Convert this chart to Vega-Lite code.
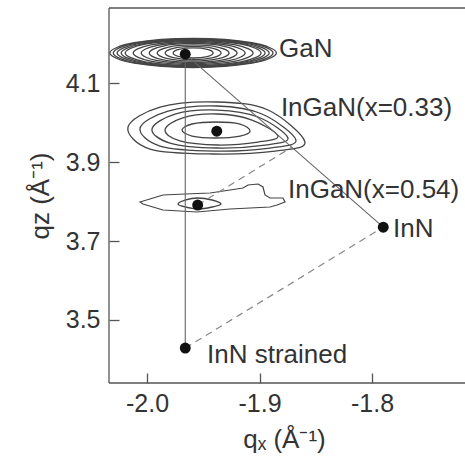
{
  "$schema": "https://vega.github.io/schema/vega-lite/v6.json",
  "width": 372,
  "height": 375,
  "autosize": {"type": "none"},
  "padding": {"left": 109, "top": 8, "right": 0, "bottom": 78},
  "background": "white",
  "config": {
    "view": {"stroke": null},
    "font": "Liberation Sans",
    "axis": {
      "grid": false,
      "domain": false,
      "ticks": true,
      "offset": -10,
      "tickSize": 10,
      "tickColor": "#555",
      "tickWidth": 1.3,
      "labelFont": "Liberation Sans",
      "labelFontSize": 25,
      "labelColor": "#333",
      "titleFont": "Liberation Sans",
      "titleFontSize": 26,
      "titleFontWeight": "normal",
      "titleColor": "#333"
    }
  },
  "datasets": {
    "contours": [
      {"c":"g1","i":0,"x":-1.885,"y":4.176},{"c":"g1","i":1,"x":-1.9067,"y":4.2019},{"c":"g1","i":2,"x":-1.959,"y":4.2127},{"c":"g1","i":3,"x":-2.0113,"y":4.2019},{"c":"g1","i":4,"x":-2.033,"y":4.176},{"c":"g1","i":5,"x":-2.0113,"y":4.1501},{"c":"g1","i":6,"x":-1.959,"y":4.1393},{"c":"g1","i":7,"x":-1.9067,"y":4.1501},
      {"c":"g2","i":0,"x":-1.8914,"y":4.176},{"c":"g2","i":1,"x":-1.9112,"y":4.2002},{"c":"g2","i":2,"x":-1.959,"y":4.2102},{"c":"g2","i":3,"x":-2.0068,"y":4.2002},{"c":"g2","i":4,"x":-2.0266,"y":4.176},{"c":"g2","i":5,"x":-2.0068,"y":4.1518},{"c":"g2","i":6,"x":-1.959,"y":4.1418},{"c":"g2","i":7,"x":-1.9112,"y":4.1518},
      {"c":"g3","i":0,"x":-1.8986,"y":4.176},{"c":"g3","i":1,"x":-1.9163,"y":4.1983},{"c":"g3","i":2,"x":-1.959,"y":4.2076},{"c":"g3","i":3,"x":-2.0017,"y":4.1983},{"c":"g3","i":4,"x":-2.0194,"y":4.176},{"c":"g3","i":5,"x":-2.0017,"y":4.1537},{"c":"g3","i":6,"x":-1.959,"y":4.1444},{"c":"g3","i":7,"x":-1.9163,"y":4.1537},
      {"c":"g4","i":0,"x":-1.9057,"y":4.176},{"c":"g4","i":1,"x":-1.9213,"y":4.1966},{"c":"g4","i":2,"x":-1.959,"y":4.2051},{"c":"g4","i":3,"x":-1.9967,"y":4.1966},{"c":"g4","i":4,"x":-2.0123,"y":4.176},{"c":"g4","i":5,"x":-1.9967,"y":4.1554},{"c":"g4","i":6,"x":-1.959,"y":4.1469},{"c":"g4","i":7,"x":-1.9213,"y":4.1554},
      {"c":"g5","i":0,"x":-1.9128,"y":4.176},{"c":"g5","i":1,"x":-1.9263,"y":4.1948},{"c":"g5","i":2,"x":-1.959,"y":4.2026},{"c":"g5","i":3,"x":-1.9917,"y":4.1948},{"c":"g5","i":4,"x":-2.0052,"y":4.176},{"c":"g5","i":5,"x":-1.9917,"y":4.1572},{"c":"g5","i":6,"x":-1.959,"y":4.1494},{"c":"g5","i":7,"x":-1.9263,"y":4.1572},
      {"c":"g6","i":0,"x":-1.9199,"y":4.176},{"c":"g6","i":1,"x":-1.9314,"y":4.193},{"c":"g6","i":2,"x":-1.959,"y":4.2001},{"c":"g6","i":3,"x":-1.9866,"y":4.193},{"c":"g6","i":4,"x":-1.9981,"y":4.176},{"c":"g6","i":5,"x":-1.9866,"y":4.159},{"c":"g6","i":6,"x":-1.959,"y":4.1519},{"c":"g6","i":7,"x":-1.9314,"y":4.159},
      {"c":"g7","i":0,"x":-1.927,"y":4.176},{"c":"g7","i":1,"x":-1.9364,"y":4.1904},{"c":"g7","i":2,"x":-1.959,"y":4.1963},{"c":"g7","i":3,"x":-1.9816,"y":4.1904},{"c":"g7","i":4,"x":-1.991,"y":4.176},{"c":"g7","i":5,"x":-1.9816,"y":4.1616},{"c":"g7","i":6,"x":-1.959,"y":4.1557},{"c":"g7","i":7,"x":-1.9364,"y":4.1616},
      {"c":"g8","i":0,"x":-1.9341,"y":4.176},{"c":"g8","i":1,"x":-1.9414,"y":4.1877},{"c":"g8","i":2,"x":-1.959,"y":4.1925},{"c":"g8","i":3,"x":-1.9766,"y":4.1877},{"c":"g8","i":4,"x":-1.9839,"y":4.176},{"c":"g8","i":5,"x":-1.9766,"y":4.1643},{"c":"g8","i":6,"x":-1.959,"y":4.1595},{"c":"g8","i":7,"x":-1.9414,"y":4.1643},
      {"c":"g9","i":0,"x":-1.9412,"y":4.176},{"c":"g9","i":1,"x":-1.9464,"y":4.185},{"c":"g9","i":2,"x":-1.959,"y":4.1887},{"c":"g9","i":3,"x":-1.9716,"y":4.185},{"c":"g9","i":4,"x":-1.9768,"y":4.176},{"c":"g9","i":5,"x":-1.9716,"y":4.167},{"c":"g9","i":6,"x":-1.959,"y":4.1633},{"c":"g9","i":7,"x":-1.9464,"y":4.167},
      {"c":"g10","i":0,"x":-1.888,"y":4.176},{"c":"g10","i":1,"x":-1.9085,"y":4.2012},{"c":"g10","i":2,"x":-1.959,"y":4.2117},{"c":"g10","i":3,"x":-2.0095,"y":4.2012},{"c":"g10","i":4,"x":-2.03,"y":4.176},{"c":"g10","i":5,"x":-2.0095,"y":4.1508},{"c":"g10","i":6,"x":-1.959,"y":4.1403},{"c":"g10","i":7,"x":-1.9085,"y":4.1508},
      {"c":"g11","i":0,"x":-1.895,"y":4.176},{"c":"g11","i":1,"x":-1.9138,"y":4.1993},{"c":"g11","i":2,"x":-1.959,"y":4.209},{"c":"g11","i":3,"x":-2.0042,"y":4.1993},{"c":"g11","i":4,"x":-2.023,"y":4.176},{"c":"g11","i":5,"x":-2.0042,"y":4.1527},{"c":"g11","i":6,"x":-1.959,"y":4.143},{"c":"g11","i":7,"x":-1.9138,"y":4.1527},
      {"c":"h1","i":0,"x":-1.8596,"y":3.9506},{"c":"h1","i":1,"x":-1.8924,"y":4.0316},{"c":"h1","i":2,"x":-1.9378,"y":4.0519},{"c":"h1","i":3,"x":-1.9884,"y":4.0392},{"c":"h1","i":4,"x":-2.0169,"y":3.9886},{"c":"h1","i":5,"x":-1.9973,"y":3.9329},{"c":"h1","i":6,"x":-1.9413,"y":3.9203},{"c":"h1","i":7,"x":-1.8862,"y":3.9278},
      {"c":"h2","i":0,"x":-1.8676,"y":3.9557},{"c":"h2","i":1,"x":-1.8978,"y":4.0215},{"c":"h2","i":2,"x":-1.9378,"y":4.0418},{"c":"h2","i":3,"x":-1.9813,"y":4.0291},{"c":"h2","i":4,"x":-2.0062,"y":3.9861},{"c":"h2","i":5,"x":-1.9884,"y":3.9405},{"c":"h2","i":6,"x":-1.9396,"y":3.9278},{"c":"h2","i":7,"x":-1.8907,"y":3.9354},
      {"c":"h3","i":0,"x":-1.8747,"y":3.9608},{"c":"h3","i":1,"x":-1.9013,"y":4.0139},{"c":"h3","i":2,"x":-1.9378,"y":4.0316},{"c":"h3","i":3,"x":-1.9751,"y":4.0215},{"c":"h3","i":4,"x":-1.9956,"y":3.9835},{"c":"h3","i":5,"x":-1.9796,"y":3.9481},{"c":"h3","i":6,"x":-1.9378,"y":3.9354},{"c":"h3","i":7,"x":-1.8951,"y":3.943},
      {"c":"h4","i":0,"x":-1.8836,"y":3.9658},{"c":"h4","i":1,"x":-1.9067,"y":4.0063},{"c":"h4","i":2,"x":-1.9378,"y":4.0215},{"c":"h4","i":3,"x":-1.9689,"y":4.0114},{"c":"h4","i":4,"x":-1.984,"y":3.981},{"c":"h4","i":5,"x":-1.9707,"y":3.9532},{"c":"h4","i":6,"x":-1.9369,"y":3.943},{"c":"h4","i":7,"x":-1.9013,"y":3.9506},
      {"c":"h5","i":0,"x":-1.9084,"y":3.9785},{"c":"h5","i":1,"x":-1.9173,"y":3.9962},{"c":"h5","i":2,"x":-1.9387,"y":4.0013},{"c":"h5","i":3,"x":-1.96,"y":3.9962},{"c":"h5","i":4,"x":-1.9689,"y":3.981},{"c":"h5","i":5,"x":-1.96,"y":3.9658},{"c":"h5","i":6,"x":-1.9387,"y":3.9608},{"c":"h5","i":7,"x":-1.9173,"y":3.9658},
      {"c":"p2","i":0,"x":-1.9342,"y":3.7937},{"c":"p2","i":1,"x":-1.9422,"y":3.8038},{"c":"p2","i":2,"x":-1.9547,"y":3.8089},{"c":"p2","i":3,"x":-1.9662,"y":3.8038},{"c":"p2","i":4,"x":-1.9724,"y":3.7937},{"c":"p2","i":5,"x":-1.9662,"y":3.7861},{"c":"p2","i":6,"x":-1.9547,"y":3.781},{"c":"p2","i":7,"x":-1.9422,"y":3.7861}
    ],
    "outline": [
      {"c":"p1","i":0,"x":-2.0062,"y":3.7987},{"c":"p1","i":1,"x":-1.9858,"y":3.8165},{"c":"p1","i":2,"x":-1.9662,"y":3.819},{"c":"p1","i":3,"x":-1.944,"y":3.8215},{"c":"p1","i":4,"x":-1.9262,"y":3.8291},{"c":"p1","i":5,"x":-1.9147,"y":3.8342},{"c":"p1","i":6,"x":-1.9102,"y":3.8418},{"c":"p1","i":7,"x":-1.9013,"y":3.8443},{"c":"p1","i":8,"x":-1.8969,"y":3.8367},{"c":"p1","i":9,"x":-1.8951,"y":3.8165},{"c":"p1","i":10,"x":-1.8907,"y":3.8089},{"c":"p1","i":11,"x":-1.8791,"y":3.8089},{"c":"p1","i":12,"x":-1.8773,"y":3.7987},{"c":"p1","i":13,"x":-1.8844,"y":3.7911},{"c":"p1","i":14,"x":-1.8907,"y":3.7861},{"c":"p1","i":15,"x":-1.9262,"y":3.781},{"c":"p1","i":16,"x":-1.9556,"y":3.7734},{"c":"p1","i":17,"x":-1.9858,"y":3.7785},{"c":"p1","i":18,"x":-2.0036,"y":3.7937}
    ],
    "lines": [
      {"type":"tie","x":-1.966,"y":4.173,"x2":-1.966,"y2":3.429},
      {"type":"tie","x":-1.966,"y":4.173,"x2":-1.790,"y2":3.735},
      {"type":"relax","x":-1.966,"y":3.429,"x2":-1.790,"y2":3.735},
      {"type":"relax","x":-1.955,"y":3.791,"x2":-1.871,"y2":3.938}
    ],
    "points": [
      {"name":"GaN","x":-1.966,"y":4.173},
      {"name":"InGaN(x=0.33)","x":-1.938,"y":3.978},
      {"name":"InGaN(x=0.54)","x":-1.955,"y":3.791},
      {"name":"InN","x":-1.790,"y":3.735},
      {"name":"InN strained","x":-1.966,"y":3.429}
    ],
    "labels": [
      {"text":"GaN","x":-1.8827,"y":4.185},
      {"text":"InGaN(x=0.33)","x":-1.881,"y":4.037},
      {"text":"InGaN(x=0.54)","x":-1.8747,"y":3.829},
      {"text":"InN","x":-1.7813,"y":3.730},
      {"text":"InN strained","x":-1.9467,"y":3.411}
    ]
  },
  "layer": [
    {
      "encoding": {
        "x": {
          "field": "x", "type": "quantitative",
          "scale": {"domain": [-2.0338, -1.7031], "nice": false, "zero": false},
          "axis": {
            "values": [-2.0, -1.9, -1.8],
            "labelExpr": "replace(format(datum.value, '.1f'), '\u2212', '-')",
            "labelPadding": 8,
            "title": "qₓ (Å⁻¹)",
            "titleX": 175,
            "titleAlign": "center",
            "titlePadding": 10
          }
        },
        "y": {
          "field": "y", "type": "quantitative",
          "scale": {"domain": [3.3405, 4.2899], "nice": false, "zero": false},
          "axis": {
            "values": [3.5, 3.7, 3.9, 4.1],
            "format": ".1f",
            "labelPadding": 9,
            "title": "qz (Å⁻¹)",
            "titlePadding": 12
          }
        }
      },
      "layer": [
        {
          "data": {"name": "contours"},
          "mark": {"type": "line", "interpolate": "cardinal-closed", "stroke": "#444", "strokeWidth": 1.3},
          "encoding": {"detail": {"field": "c"}, "order": {"field": "i"}}
        },
        {
          "data": {"name": "outline"},
          "mark": {"type": "line", "interpolate": "linear-closed", "stroke": "#444", "strokeWidth": 1.2},
          "encoding": {"detail": {"field": "c"}, "order": {"field": "i"}}
        },
        {
          "data": {"name": "lines"},
          "transform": [{"filter": "datum.type === 'tie'"}],
          "mark": {"type": "rule", "stroke": "#666", "strokeWidth": 1.1},
          "encoding": {"x2": {"field": "x2"}, "y2": {"field": "y2"}}
        },
        {
          "data": {"name": "lines"},
          "transform": [{"filter": "datum.type === 'relax'"}],
          "mark": {"type": "rule", "stroke": "#888", "strokeWidth": 1.2, "strokeDash": [7, 5]},
          "encoding": {"x2": {"field": "x2"}, "y2": {"field": "y2"}}
        },
        {
          "data": {"name": "points"},
          "mark": {"type": "point", "filled": true, "color": "#111", "size": 120, "opacity": 1}
        },
        {
          "data": {"name": "labels"},
          "mark": {"type": "text", "align": "left", "baseline": "middle", "fontSize": 26, "color": "#333", "font": "Liberation Sans"},
          "encoding": {"text": {"field": "text"}}
        }
      ]
    },
    {
      "data": {"values": [{"edge": "top", "v": 4.2899}, {"edge": "bottom", "v": 3.3405}]},
      "mark": {"type": "rule", "stroke": "#555", "strokeWidth": 1.3},
      "encoding": {"y": {"field": "v", "type": "quantitative"}}
    },
    {
      "data": {"values": [{"edge": "left", "v": -2.0338}]},
      "mark": {"type": "rule", "stroke": "#555", "strokeWidth": 1.3},
      "encoding": {"x": {"field": "v", "type": "quantitative"}}
    }
  ]
}
